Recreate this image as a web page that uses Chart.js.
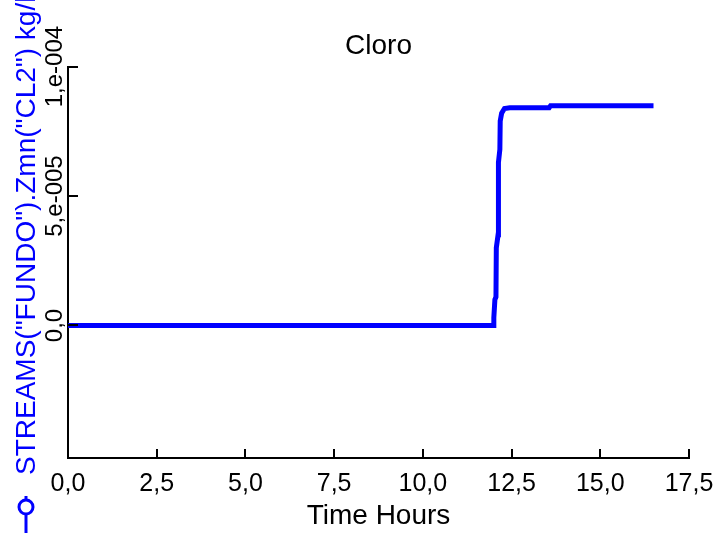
<!DOCTYPE html>
<html>
<head>
<meta charset="utf-8">
<script src="https://cdn.jsdelivr.net/npm/chart.js@4/dist/chart.umd.min.js"></script>
<style>
  body { margin: 0; background: #fff; }
  canvas { display: block; }
</style>
</head>
<body>
<canvas id="cloroChart" width="720" height="533"></canvas>
<script>
// time in hours and Zmn("CL2") in kg/l
var hours = [0, 11.98, 12.00, 12.03, 12.06, 12.07, 12.12, 12.13, 12.17, 12.18, 12.22, 12.30, 12.45, 13.56, 13.60, 16.50];
var cl2 = [0, 0, 3.0e-6, 1.0e-5, 1.1e-5, 3.0e-5, 3.5e-5, 6.3e-5, 6.8e-5, 7.9e-5, 8.2e-5, 8.38e-5, 8.41e-5, 8.41e-5, 8.49e-5, 8.49e-5];

var yTickValues = [0, 5e-5, 1e-4];
var yTickLabels = ['0,0', '5,e-005', '1,e-004'];
var xTickValues = [2.5, 5, 7.5, 10, 12.5, 15, 17.5];

var FONT = '"Liberation Sans", Arial, sans-serif';
var BLUE = '#0000ff';

var points = hours.map(function(h, i) { return { x: h, y: cl2[i] }; });

// inner tick marks, rotated y labels and the blue y title with its legend symbol
var axisExtras = {
  id: 'axisExtras',
  afterDraw: function(chart) {
    var ctx = chart.ctx;
    var xs = chart.scales.x, ys = chart.scales.y;
    var area = chart.chartArea;
    ctx.save();
    ctx.strokeStyle = '#000';
    ctx.lineWidth = 2;
    xTickValues.forEach(function(v) {
      var px = Math.round(xs.getPixelForValue(v));
      ctx.beginPath();
      ctx.moveTo(px, area.bottom);
      ctx.lineTo(px, area.bottom - 9);
      ctx.stroke();
    });
    yTickValues.forEach(function(v) {
      var py = Math.round(ys.getPixelForValue(v));
      ctx.beginPath();
      ctx.moveTo(area.left, py);
      ctx.lineTo(area.left + 10, py);
      ctx.stroke();
    });

    ctx.fillStyle = '#000';
    ctx.font = '24px ' + FONT;
    ctx.textAlign = 'center';
    ctx.textBaseline = 'alphabetic';
    yTickValues.forEach(function(v, i) {
      var py = ys.getPixelForValue(v);
      ctx.save();
      ctx.translate(area.left - 6, py);
      ctx.rotate(-Math.PI / 2);
      ctx.fillText(yTickLabels[i], 0, 0);
      ctx.restore();
    });

    // y title
    ctx.save();
    ctx.fillStyle = BLUE;
    ctx.font = '28px ' + FONT;
    ctx.textAlign = 'left';
    ctx.translate(35, 475);
    ctx.rotate(-Math.PI / 2);
    ctx.fillText('STREAMS("FUNDO").Zmn("CL2") kg/l', 0, 0);
    ctx.restore();

    // legend symbol -o- (vertical)
    ctx.strokeStyle = BLUE;
    ctx.lineWidth = 3;
    ctx.beginPath();
    ctx.moveTo(26, 496);
    ctx.lineTo(26, 533);
    ctx.stroke();
    ctx.beginPath();
    ctx.arc(26, 507, 7, 0, Math.PI * 2);
    ctx.fillStyle = '#fff';
    ctx.fill();
    ctx.stroke();
    ctx.restore();
  }
};

var chart = new Chart(document.getElementById('cloroChart'), {
  type: 'line',
  data: {
    datasets: [{
      label: 'STREAMS("FUNDO").Zmn("CL2") kg/l',
      data: points,
      borderColor: BLUE,
      backgroundColor: BLUE,
      borderWidth: 5,
      pointRadius: 0,
      tension: 0,
      fill: false
    }]
  },
  options: {
    responsive: false,
    animation: false,
    layout: { padding: { left: 68, right: 31, top: 0, bottom: 0 } },
    plugins: {
      legend: { display: false },
      tooltip: { enabled: false },
      title: {
        display: true,
        text: 'Cloro',
        fullSize: false,
        color: '#000',
        font: { family: FONT, size: 28, weight: 'normal' },
        padding: { top: 29, bottom: 4 }
      }
    },
    scales: {
      x: {
        type: 'linear',
        min: 0,
        max: 17.5,
        grid: { display: false, drawTicks: false },
        border: { display: true, color: '#000', width: 2 },
        afterFit: function(scale) {
          scale.height = 75;
          scale.paddingRight = 0;
          scale.paddingLeft = 0;
        },
        ticks: {
          stepSize: 2.5,
          padding: 11,
          color: '#000',
          maxRotation: 0,
          font: { family: FONT, size: 25 },
          callback: function(v) { return v.toFixed(1).replace('.', ','); }
        },
        title: {
          display: true,
          text: 'Time Hours',
          color: '#000',
          font: { family: FONT, size: 28 },
          padding: { top: 0, bottom: 0 }
        }
      },
      y: {
        min: -5.12e-5,
        max: 1e-4,
        grid: { display: false, drawTicks: false },
        border: { display: true, color: '#000', width: 2 },
        ticks: { display: false }
      }
    }
  },
  plugins: [axisExtras]
});
</script>
</body>
</html>
